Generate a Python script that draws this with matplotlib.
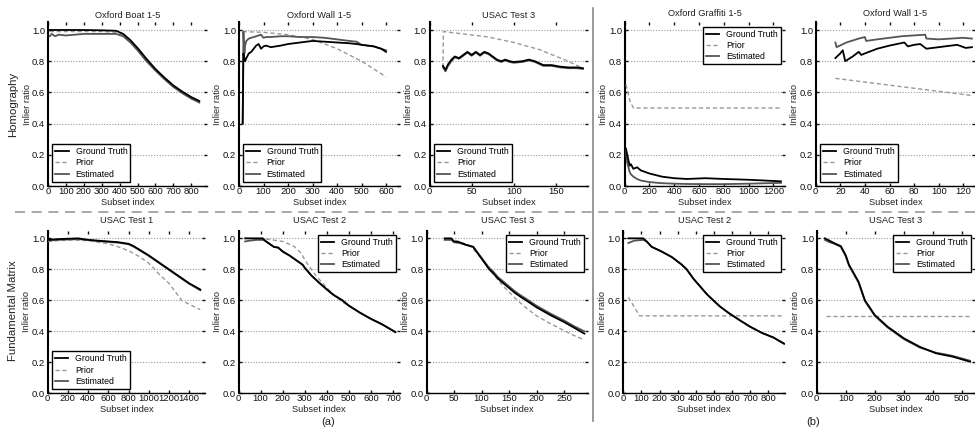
import matplotlib
matplotlib.use("Agg")
import matplotlib.pyplot as plt
from matplotlib.ticker import MultipleLocator, FormatStrFormatter
from matplotlib.lines import Line2D

plt.rcParams['font.family'] = ['Liberation Sans', 'DejaVu Sans']

# ---------------- data ----------------
# Top row (Homography)
boat_x = [10, 100, 200, 300, 380, 420, 460, 500, 550, 600, 650, 700, 750, 800, 845]
boat_gt = [1.0, 1.0, 1.0, 0.998, 0.995, 0.975, 0.935, 0.885, 0.815, 0.75, 0.695, 0.645, 0.605, 0.57, 0.545]
boat_est_x = [10, 20, 40, 60, 100, 150, 200, 300, 380, 420, 460, 500, 550, 600, 650, 700, 750, 800, 845]
boat_est = [0.96, 0.975, 0.96, 0.97, 0.965, 0.97, 0.975, 0.975, 0.975, 0.96, 0.92, 0.87, 0.80, 0.74, 0.685, 0.635, 0.595, 0.56, 0.535]
boat_prior = [0.99, 0.99, 0.99, 0.99, 0.985, 0.97, 0.93, 0.88, 0.81, 0.745, 0.69, 0.64, 0.60, 0.565, 0.54]

wall_x = [15, 18, 22, 25, 30, 40, 50, 60, 70, 80, 90, 100, 110, 130, 170, 200, 250, 300, 350, 400, 450, 480, 500, 550, 580, 600]
wall_gt = [0.40, 0.85, 0.82, 0.80, 0.82, 0.85, 0.86, 0.88, 0.90, 0.91, 0.88, 0.895, 0.90, 0.89, 0.90, 0.91, 0.92, 0.93, 0.925, 0.92, 0.915, 0.91, 0.905, 0.895, 0.88, 0.86]
wall_est = [0.40, 0.99, 0.85, 0.90, 0.93, 0.945, 0.95, 0.955, 0.96, 0.965, 0.97, 0.95, 0.955, 0.955, 0.96, 0.96, 0.955, 0.955, 0.95, 0.94, 0.93, 0.925, 0.905, 0.895, 0.88, 0.87]
wall_prior_x = [15, 100, 200, 300, 400, 500, 600]
wall_prior = [0.99, 0.985, 0.97, 0.94, 0.88, 0.80, 0.70]

usac3h_x = [16, 19, 22, 26, 30, 35, 40, 45, 50, 55, 60, 65, 70, 75, 80, 85, 90, 95, 100, 110, 118, 125, 135, 145, 155, 165, 175, 182]
usac3h_gt = [0.77, 0.745, 0.78, 0.81, 0.83, 0.82, 0.84, 0.86, 0.84, 0.86, 0.84, 0.86, 0.85, 0.83, 0.81, 0.80, 0.81, 0.80, 0.795, 0.80, 0.81, 0.80, 0.775, 0.775, 0.765, 0.76, 0.76, 0.755]
usac3h_est = [0.76, 0.735, 0.77, 0.80, 0.825, 0.815, 0.835, 0.855, 0.835, 0.855, 0.835, 0.855, 0.845, 0.825, 0.805, 0.795, 0.805, 0.795, 0.79, 0.795, 0.805, 0.795, 0.77, 0.77, 0.76, 0.755, 0.755, 0.75]
usac3h_prior_x = [16, 16.5, 40, 70, 100, 130, 160, 182]
usac3h_prior = [0.76, 0.99, 0.975, 0.955, 0.92, 0.875, 0.81, 0.755]

graf_x = [10, 20, 40, 50, 70, 100, 130, 200, 300, 400, 500, 650, 800, 1000, 1260]
graf_gt = [0.24, 0.20, 0.13, 0.14, 0.11, 0.12, 0.10, 0.08, 0.06, 0.05, 0.045, 0.05, 0.045, 0.04, 0.03]
graf_est = [0.23, 0.15, 0.09, 0.075, 0.06, 0.045, 0.035, 0.025, 0.018, 0.015, 0.013, 0.012, 0.012, 0.015, 0.02]
graf_prior_x = [10, 40, 70, 1260]
graf_prior = [0.65, 0.55, 0.50, 0.50]

wallb_x = [16, 20, 22, 24, 30, 35, 37, 40, 50, 60, 72, 75, 80, 85, 90, 100, 110, 115, 122, 127]
wallb_gt = [0.82, 0.85, 0.87, 0.80, 0.83, 0.86, 0.84, 0.85, 0.88, 0.90, 0.92, 0.895, 0.905, 0.91, 0.88, 0.89, 0.90, 0.905, 0.885, 0.89]
wallb_est_x = [16, 17, 25, 35, 40, 41, 50, 60, 70, 89, 90, 100, 110, 120, 127]
wallb_est = [0.92, 0.89, 0.92, 0.945, 0.955, 0.93, 0.94, 0.95, 0.96, 0.97, 0.945, 0.94, 0.945, 0.95, 0.945]
wallb_prior_x = [16, 127]
wallb_prior = [0.69, 0.58]

# Bottom row (Fundamental Matrix)
usac1_x = [0, 100, 300, 400, 500, 600, 700, 800, 850, 900, 1000, 1100, 1200, 1300, 1400, 1510]
usac1_gt = [0.99, 0.995, 1.0, 0.99, 0.985, 0.98, 0.975, 0.965, 0.95, 0.93, 0.89, 0.845, 0.80, 0.755, 0.71, 0.67]
usac1_est = [0.985, 0.99, 0.995, 0.99, 0.982, 0.977, 0.972, 0.962, 0.947, 0.927, 0.887, 0.842, 0.797, 0.752, 0.707, 0.665]
usac1_prior_x = [0, 200, 400, 600, 700, 800, 900, 1000, 1060, 1100, 1200, 1327, 1400, 1510]
usac1_prior = [0.98, 0.99, 0.985, 0.965, 0.945, 0.92, 0.885, 0.84, 0.80, 0.77, 0.71, 0.60, 0.575, 0.54]

usac2a_x = [30, 50, 80, 110, 120, 140, 160, 180, 200, 230, 260, 290, 300, 330, 360, 400, 430, 470, 500, 550, 600, 650, 710]
usac2a_gt = [1.0, 1.0, 1.0, 1.0, 0.985, 0.965, 0.945, 0.94, 0.915, 0.89, 0.86, 0.83, 0.81, 0.76, 0.72, 0.67, 0.635, 0.60, 0.565, 0.52, 0.48, 0.445, 0.395]
usac2a_est = [0.98, 0.985, 0.99, 0.99, 0.985, 0.965, 0.945, 0.94, 0.915, 0.89, 0.86, 0.83, 0.81, 0.76, 0.72, 0.67, 0.635, 0.60, 0.565, 0.52, 0.48, 0.445, 0.395]
usac2a_prior_x = [30, 130, 200, 250, 280, 310, 350, 400, 450, 480, 500, 550, 600, 650, 710]
usac2a_prior = [1.0, 0.995, 0.98, 0.95, 0.91, 0.84, 0.76, 0.68, 0.61, 0.58, 0.565, 0.52, 0.48, 0.445, 0.395]

usac3a_x = [33, 45, 50, 60, 70, 80, 85, 90, 100, 114, 120, 130, 140, 150, 160, 170, 181, 200, 225, 250, 270, 287]
usac3a_gt = [1.0, 1.0, 0.98, 0.975, 0.96, 0.95, 0.945, 0.92, 0.87, 0.80, 0.78, 0.74, 0.71, 0.68, 0.65, 0.625, 0.60, 0.555, 0.505, 0.46, 0.42, 0.385]
usac3a_est = [0.99, 0.99, 0.975, 0.97, 0.96, 0.95, 0.945, 0.92, 0.875, 0.81, 0.79, 0.75, 0.72, 0.69, 0.66, 0.635, 0.61, 0.565, 0.515, 0.47, 0.43, 0.40]
usac3a_prior_x = [40, 60, 80, 100, 110, 120, 140, 165, 180, 200, 225, 250, 270, 287]
usac3a_prior = [1.0, 0.98, 0.95, 0.87, 0.82, 0.775, 0.69, 0.60, 0.555, 0.50, 0.45, 0.405, 0.37, 0.345]

usac2b_x = [28, 60, 110, 129, 157, 203, 267, 323, 350, 387, 424, 461, 497, 534, 580, 645, 700, 765, 829, 888]
usac2b_gt = [1.0, 1.0, 1.0, 0.98, 0.945, 0.92, 0.88, 0.83, 0.80, 0.74, 0.69, 0.64, 0.60, 0.56, 0.52, 0.47, 0.43, 0.39, 0.36, 0.32]
usac2b_est = [0.97, 0.985, 0.99, 0.98, 0.945, 0.92, 0.88, 0.83, 0.80, 0.74, 0.69, 0.64, 0.60, 0.56, 0.52, 0.47, 0.43, 0.39, 0.36, 0.32]
usac2b_prior_x = [28, 90, 888]
usac2b_prior = [0.62, 0.50, 0.50]

usac3b_x = [28, 44, 61, 83, 100, 111, 144, 166, 200, 244, 300, 355, 411, 467, 528]
usac3b_gt = [1.0, 0.985, 0.968, 0.95, 0.89, 0.83, 0.72, 0.60, 0.505, 0.43, 0.355, 0.30, 0.258, 0.237, 0.204]
usac3b_est = [0.99, 0.975, 0.965, 0.945, 0.885, 0.825, 0.715, 0.595, 0.50, 0.425, 0.35, 0.295, 0.262, 0.242, 0.21]
usac3b_prior_x = [33, 528]
usac3b_prior = [0.50, 0.50]

titles = ["Oxford Boat 1-5", "Oxford Wall 1-5", "USAC Test 3", "Oxford Graffiti 1-5", "Oxford Wall 1-5",
          "USAC Test 1", "USAC Test 2", "USAC Test 3", "USAC Test 2", "USAC Test 3"]
legend_labels = ["Ground Truth", "Prior", "Estimated"]
row_labels = ["Homography", "Fundamental Matrix"]
y_ticks = [0.0, 0.2, 0.4, 0.6, 0.8, 1.0]

panels = [
    (boat_x, boat_gt, boat_est_x, boat_est, boat_x, boat_prior),
    (wall_x, wall_gt, wall_x, wall_est, wall_prior_x, wall_prior),
    (usac3h_x, usac3h_gt, usac3h_x, usac3h_est, usac3h_prior_x, usac3h_prior),
    (graf_x, graf_gt, graf_x, graf_est, graf_prior_x, graf_prior),
    (wallb_x, wallb_gt, wallb_est_x, wallb_est, wallb_prior_x, wallb_prior),
    (usac1_x, usac1_gt, usac1_x, usac1_est, usac1_prior_x, usac1_prior),
    (usac2a_x, usac2a_gt, usac2a_x, usac2a_est, usac2a_prior_x, usac2a_prior),
    (usac3a_x, usac3a_gt, usac3a_x, usac3a_est, usac3a_prior_x, usac3a_prior),
    (usac2b_x, usac2b_gt, usac2b_x, usac2b_est, usac2b_prior_x, usac2b_prior),
    (usac3b_x, usac3b_gt, usac3b_x, usac3b_est, usac3b_prior_x, usac3b_prior),
]

# ---------------- layout ----------------
W, H = 975, 429
fig = plt.figure(figsize=(W / 100, H / 100), dpi=100)

# (left px, right px, xmax, tick step)
cols = [
    (48, 207, 888, 100), (239, 400, 657, 100), (429.5, 588, 188, 50), (624.7, 785, 1293, 200), (815.7, 975, 129.5, 20),
    (47.7, 205, 1557, 200), (238.5, 400, 731, 100), (426.5, 588, 293.6, 50), (623.3, 785, 893, 100), (816.7, 975, 545, 100),
]
rows_px = [(22.2, 186.0), (230.6, 393.3)]
legend_loc = ['lower left'] * 3 + ['upper right', 'lower left', 'lower left'] + ['upper right'] * 4
title_off = [7, 7, 7, 9, 9, 10.5, 10.5, 10.5, 10.5, 10.5]

GT_C, PR_C, EST_C = '#000000', '#999999', '#555555'

for i, (l, r, xmax, step) in enumerate(cols):
    top, bot = rows_px[0] if i < 5 else rows_px[1]
    ax = fig.add_axes([l / W, (H - bot) / H, (r - l) / W, (bot - top) / H])
    gx, gy, ex, ey, px, py = panels[i]
    hpx = bot - top
    ax.plot(gx, gy, color=GT_C, lw=1.3, label=legend_labels[0], zorder=4)
    ax.plot(px, py, color=PR_C, lw=1.0, ls=(0, (3, 2)), label=legend_labels[1], zorder=3)
    ax.plot(ex, ey, color=EST_C, lw=1.3, label=legend_labels[2], zorder=3)
    ax.set_xlim(0, xmax)
    ax.set_ylim(0, 1.05)
    ax.xaxis.set_major_locator(MultipleLocator(step))
    ax.set_yticks(y_ticks)
    ax.yaxis.set_major_formatter(FormatStrFormatter('%.1f'))
    for sp in ('top', 'right'):
        ax.spines[sp].set_visible(False)
    ax.spines['left'].set_linewidth(1.5)
    ax.spines['bottom'].set_linewidth(1.0)
    ax.tick_params(axis='both', which='major', direction='in', length=2, width=1,
                   top=True, right=True, labelsize=6.8, colors='#111111')
    ax.tick_params(axis='x', pad=0.6)
    ax.tick_params(axis='y', pad=2)
    ax.grid(axis='y', color='#999999', ls=(0, (1, 1.5)), lw=0.8)
    ax.set_axisbelow(True)
    ax.text(0.5, 1 + title_off[i] / hpx, titles[i], transform=ax.transAxes, ha='center', va='center',
            fontsize=6.7, color='#222222')
    ax.text(0.5, -16.5 / hpx, "Subset index", transform=ax.transAxes, ha='center', va='center',
            fontsize=6.7, color='#222222')
    ax.text(-21 / (r - l), 0.5, "Inlier ratio", transform=ax.transAxes, ha='center', va='center',
            rotation=90, fontsize=6.7, color='#222222')
    leg = ax.legend(loc=legend_loc[i], fontsize=6.3, frameon=True, fancybox=False, framealpha=1,
                    borderpad=0.35, labelspacing=0.25, handlelength=1.5, handletextpad=0.8,
                    borderaxespad=0.5)
    leg.get_frame().set_edgecolor('black')
    leg.get_frame().set_linewidth(1.0)

# row labels
fig.text(13 / W, 1 - 104 / H, row_labels[0], rotation=90, ha='center', va='center', fontsize=8.2, color='#222222')
fig.text(13 / W, 1 - 311 / H, row_labels[1], rotation=90, ha='center', va='center', fontsize=8.2, color='#222222')

# separators
fig.add_artist(Line2D([592.7 / W, 592.7 / W], [1 - 8 / H, 1 - 421 / H], color='#888888', lw=1.2))
fig.add_artist(Line2D([15 / W, 975 / W], [1 - 211.7 / H, 1 - 211.7 / H], color='#999999', lw=1.2,
                      ls=(0, (6, 4))))

fig.text(328 / W, 1 - 422 / H, "(a)", ha='center', va='center', fontsize=8, color='#222222')
fig.text(813 / W, 1 - 422 / H, "(b)", ha='center', va='center', fontsize=8, color='#222222')

fig.savefig("out.png", dpi=100)
